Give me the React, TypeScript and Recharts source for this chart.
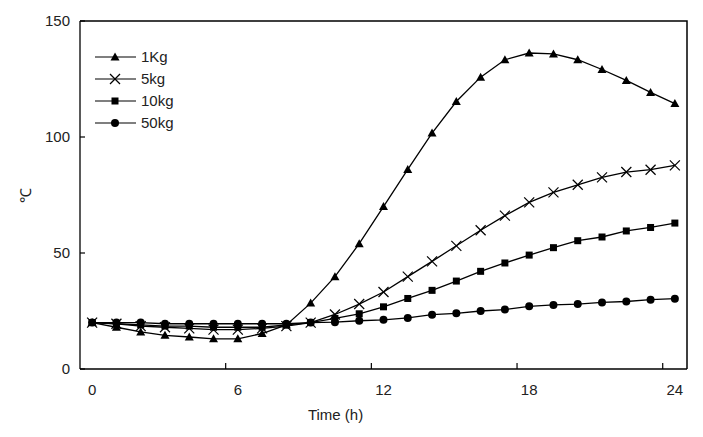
import React from 'react';
import { LineChart, Line, XAxis, YAxis, Legend } from 'recharts';

const hours = [0, 1, 2, 3, 4, 5, 6, 7, 8, 9, 10, 11, 12, 13, 14, 15, 16, 17, 18, 19, 20, 21, 22, 23, 24];
const kg1 = [20, 18, 16, 14.5, 13.8, 13, 13, 15.3, 19, 28.4, 39.8, 54, 70, 86, 101.7, 115.3, 125.8, 133.3, 136.2, 135.8, 133.3, 129.1, 124.4, 119.2, 114.4];
const kg5 = [20, 19.5, 18.5, 18, 17.5, 17, 17, 17.5, 18.5, 20, 23.5, 28, 33.2, 39.8, 46.4, 53.1, 59.8, 66.1, 71.8, 76.1, 79.4, 82.6, 84.9, 85.9, 87.8];
const kg10 = [20, 19.5, 19, 18.5, 18.5, 18, 18, 18, 19, 20, 21.8, 23.8, 26.8, 30.4, 33.9, 37.9, 42.1, 45.7, 49.1, 52.3, 55.3, 56.9, 59.5, 61, 62.9];
const kg50 = [20, 20, 20, 19.5, 19.5, 19.5, 19.5, 19.5, 19.5, 20, 20.2, 20.8, 21.2, 22, 23.4, 24, 25, 25.6, 27, 27.6, 28, 28.7, 29.1, 29.9, 30.3];

const xLabels = [0, 6, 12, 18, 24];
const xMarks = [5.5, 11.5, 17.5, 23.5];
const yTicks = [0, 50, 100, 150];

const data = hours.map((t, i) => ({ t, kg1: kg1[i], kg5: kg5[i], kg10: kg10[i], kg50: kg50[i] }));

const W = 703;
const H = 437;
const MARGIN = { top: 21, right: 16, left: 0, bottom: 18 };
const Y_AXIS_W = 80;
const X_AXIS_H = 50;

const FONT = '"Liberation Sans", Arial, sans-serif';
const INK = '#000';

const Marker = ({ kind, cx, cy }: { kind: string; cx: number; cy: number }) => {
  if (kind === 'tri') {
    return <polygon points={`${cx},${cy - 4.5} ${cx - 4.5},${cy + 3.5} ${cx + 4.5},${cy + 3.5}`} fill={INK} />;
  }
  if (kind === 'cross') {
    return (
      <g stroke={INK} strokeWidth={1.2}>
        <line x1={cx - 5} y1={cy - 5} x2={cx + 5} y2={cy + 5} />
        <line x1={cx - 5} y1={cy + 5} x2={cx + 5} y2={cy - 5} />
      </g>
    );
  }
  if (kind === 'square') {
    return <rect x={cx - 3.5} y={cy - 3.5} width={7} height={7} fill={INK} />;
  }
  return <circle cx={cx} cy={cy} r={4} fill={INK} />;
};

const makeDot = (kind: string) => (props: any) => {
  const { cx, cy, index } = props;
  if (cx == null || cy == null) return <g key={index} />;
  return <Marker key={index} kind={kind} cx={cx} cy={cy} />;
};

const series = [
  { key: 'kg1', name: '1Kg', kind: 'tri' },
  { key: 'kg5', name: '5kg', kind: 'cross' },
  { key: 'kg10', name: '10kg', kind: 'square' },
  { key: 'kg50', name: '50kg', kind: 'circle' },
];

const LegendBox = () => (
  <svg width={90} height={90} style={{ display: 'block' }}>
    {series.map((s, i) => {
      const y = 10 + i * 22;
      return (
        <g key={s.key}>
          <line x1={0} y1={y} x2={41} y2={y} stroke={INK} strokeWidth={1.2} />
          <Marker kind={s.kind} cx={20} cy={y} />
          <text x={46} y={y + 5} fontSize={15} fontFamily={FONT} fill="#222">{s.name}</text>
        </g>
      );
    })}
  </svg>
);

const XTick = (props: any) => {
  const { x, y, payload } = props;
  const v = payload.value;
  if (Number.isInteger(v)) {
    return (
      <text x={x} y={y + 26} textAnchor="middle" fontSize={15} fontFamily={FONT} fill="#222">{v}</text>
    );
  }
  return <line x1={x} y1={y} x2={x} y2={y - 6} stroke={INK} strokeWidth={1.2} />;
};

export default function App() {
  // plot box; the top and right edges are drawn over the chart
  const plotLeft = MARGIN.left + Y_AXIS_W;
  const plotTop = MARGIN.top;
  const plotRight = W - MARGIN.right;
  const plotBottom = H - MARGIN.bottom - X_AXIS_H;

  return (
    <div style={{ position: 'absolute', left: 0, top: 0, width: W, height: H, background: '#fff' }}>
      <LineChart width={W} height={H} data={data} margin={MARGIN}>
        <XAxis
          dataKey="t"
          type="number"
          domain={[-0.5, 24.5]}
          ticks={[...xLabels, ...xMarks].sort((a, b) => a - b)}
          interval={0}
          tickLine={false}
          tickSize={0}
          tickMargin={0}
          tick={<XTick />}
          axisLine={{ stroke: INK, strokeWidth: 1.3 }}
          height={X_AXIS_H}
          label={{
            content: (p: any) => {
              const vb = p.viewBox;
              return (
                <text x={vb.x + vb.width * 0.421} y={vb.y + 51} textAnchor="middle" fontSize={15} fontFamily={FONT} fill="#222">
                  Time (h)
                </text>
              );
            },
          }}
        />
        <YAxis
          type="number"
          domain={[0, 150]}
          ticks={yTicks}
          width={Y_AXIS_W}
          tickSize={-5}
          tickMargin={15}
          tickLine={{ stroke: INK, strokeWidth: 1.2 }}
          axisLine={{ stroke: INK, strokeWidth: 1.3 }}
          tick={{ fontSize: 15, fontFamily: FONT, fill: '#222' }}
          label={{
            content: (p: any) => {
              const vb = p.viewBox;
              const cx = vb.x + 25;
              const cy = vb.y + vb.height / 2;
              return (
                <text x={cx} y={cy} transform={`rotate(-90 ${cx} ${cy})`} textAnchor="middle" dominantBaseline="central" fontSize={15} fontFamily={FONT} fill="#222">
                  ℃
                </text>
              );
            },
          }}
        />
        <Legend
          layout="horizontal"
          verticalAlign="middle"
          align="center"
          content={() => <LegendBox />}
          wrapperStyle={{ left: 95, top: 47, width: 90, height: 90 }}
        />
        {series.map((s) => (
          <Line
            key={s.key}
            dataKey={s.key}
            name={s.name}
            type="linear"
            stroke={INK}
            strokeWidth={1.3}
            dot={makeDot(s.kind)}
            activeDot={false}
            isAnimationActive={false}
          />
        ))}
      </LineChart>
      <svg
        width={W}
        height={H}
        style={{ position: 'absolute', left: 0, top: 0, pointerEvents: 'none', zIndex: 5 }}
      >
        <polyline
          points={`${plotLeft},${plotTop} ${plotRight},${plotTop} ${plotRight},${plotBottom}`}
          fill="none"
          stroke={INK}
          strokeWidth={1.5}
        />
      </svg>
    </div>
  );
}
